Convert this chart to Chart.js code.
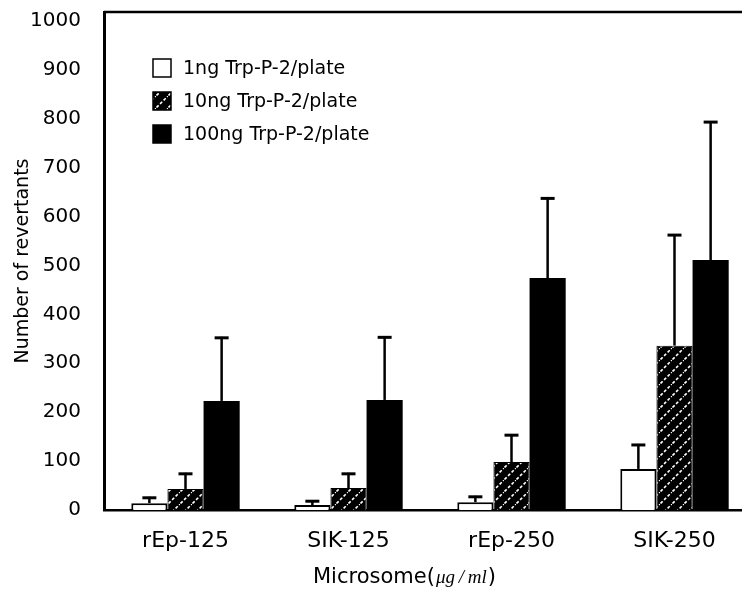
<!DOCTYPE html>
<html>
<head>
<meta charset="utf-8">
<title>Number of revertants</title>
<script src="https://cdn.jsdelivr.net/npm/chart.js@4.4.1/dist/chart.umd.min.js"></script>
<style>
    html, body { margin: 0; padding: 0; background: #fff; overflow: hidden; }
    #wrap { width: 742px; height: 589px; overflow: hidden; }
</style>
</head>
<body>
<div id="wrap"><canvas id="canvasRevertants" width="756" height="589"></canvas></div>
<script>
// chart data
var categories = ["rEp-125", "SIK-125", "rEp-250", "SIK-250"];
var seriesNames = ["1ng Trp-P-2/plate", "10ng Trp-P-2/plate", "100ng Trp-P-2/plate"];
var values1ng = [14, 10, 16, 84];
var errors1ng = [13, 10, 13, 51];
var values10ng = [43, 45, 98, 336];
var errors10ng = [33, 31, 57, 228];
var values100ng = [223, 225, 474, 511];
var errors100ng = [131, 130, 165, 284];
var yTicks = [0, 100, 200, 300, 400, 500, 600, 700, 800, 900, 1000];

var FONT = "'DejaVu Sans', 'Liberation Sans', Arial, sans-serif";

// black with white dashed diagonal stripes
function makeHatch()
{
    var c = document.createElement("canvas");
    c.width = 12;
    c.height = 12;
    var ctx = c.getContext("2d");
    ctx.fillStyle = "#000";
    ctx.fillRect(0, 0, 12, 12);
    ctx.strokeStyle = "#fff";
    ctx.lineWidth = 1.6;
    ctx.setLineDash([3, 2]);
    ctx.beginPath();
    ctx.moveTo(-3, 15); ctx.lineTo(15, -3);
    ctx.stroke();
    return document.createElement("canvas").getContext("2d").createPattern(c, "repeat");
}

var hatch = makeHatch();

// error bars (upper only) drawn through the y scale
var errorBarPlugin = {
    id: "errorBars",
    afterDatasetsDraw: function (chart)
    {
        var ctx = chart.ctx;
        var yScale = chart.scales.y;
        ctx.save();
        ctx.strokeStyle = "#000";
        chart.data.datasets.forEach(function (ds, i)
        {
            var meta = chart.getDatasetMeta(i);
            meta.data.forEach(function (bar, j)
            {
                var top = yScale.getPixelForValue(ds.data[j] + ds.errors[j]);
                ctx.lineWidth = 2.5;
                ctx.beginPath();
                ctx.moveTo(bar.x, bar.y);
                ctx.lineTo(bar.x, top);
                ctx.stroke();
                ctx.lineWidth = 3;
                ctx.beginPath();
                ctx.moveTo(bar.x - 7, top + 1);
                ctx.lineTo(bar.x + 7, top + 1);
                ctx.stroke();
            });
        });
        ctx.restore();
    }
};

// top frame line, legend inside the plot, x axis title with mixed fonts
var framePlugin = {
    id: "frameAndLegend",
    afterDraw: function (chart)
    {
        var ctx = chart.ctx;
        var area = chart.chartArea;
        ctx.save();

        ctx.strokeStyle = "#000";
        ctx.lineWidth = 2.5;
        ctx.beginPath();
        ctx.moveTo(area.left, area.top);
        ctx.lineTo(area.right, area.top);
        ctx.stroke();

        // legend
        var bx = area.left + 49;
        var by = area.top + 56;
        ctx.font = "19px " + FONT;
        ctx.textBaseline = "middle";
        ctx.textAlign = "left";
        chart.data.datasets.forEach(function (ds, i)
        {
            var cy = by + i * 33;
            ctx.fillStyle = ds.backgroundColor;
            ctx.fillRect(bx, cy - 9, 18, 18);
            ctx.lineWidth = 1.5;
            ctx.strokeStyle = "#000";
            ctx.strokeRect(bx, cy - 9, 18, 18);
            ctx.fillStyle = "#000";
            ctx.fillText(ds.label, bx + 30, cy + 1);
        });

        // x axis title
        var tx = area.left + 209;
        var ty = 583;
        ctx.textBaseline = "alphabetic";
        ctx.fillStyle = "#000";
        ctx.font = "21px " + FONT;
        ctx.fillText("Microsome(", tx, ty);
        tx += ctx.measureText("Microsome(").width + 1;
        ctx.font = "italic 19px 'Liberation Serif', 'DejaVu Serif', serif";
        var unit = "\u03bcg\u2009/\u2009ml";
        ctx.fillText(unit, tx, ty);
        tx += ctx.measureText(unit).width + 1;
        ctx.font = "21px " + FONT;
        ctx.fillText(")", tx, ty);

        ctx.restore();
    }
};

var config = {
    type: "bar",
    data: {
        labels: categories,
        datasets: [
            {
                label: seriesNames[0],
                data: values1ng,
                errors: errors1ng,
                backgroundColor: "#fff",
                borderColor: "#000",
                borderWidth: 2
            },
            {
                label: seriesNames[1],
                data: values10ng,
                errors: errors10ng,
                backgroundColor: hatch,
                borderColor: "#000",
                borderWidth: 1
            },
            {
                label: seriesNames[2],
                data: values100ng,
                errors: errors100ng,
                backgroundColor: "#000",
                borderColor: "#000",
                borderWidth: 0
            }
        ]
    },
    options: {
        responsive: false,
        animation: false,
        layout: { padding: { top: 12, right: 0, left: 0, bottom: 0 } },
        datasets: {
            bar: { categoryPercentage: 0.665, barPercentage: 1.0 }
        },
        plugins: {
            legend: { display: false },
            tooltip: { enabled: false }
        },
        scales: {
            x: {
                grid: { display: false },
                border: { display: true, color: "#000", width: 2.5 },
                ticks: {
                    color: "#000",
                    padding: 10,
                    font: { family: FONT, size: 22 },
                    maxRotation: 0
                },
                afterFit: function (scale)
                {
                    scale.height = 79;
                    scale.paddingLeft = 0;
                    scale.paddingRight = 0;
                }
            },
            y: {
                min: 0,
                max: 1018,
                grid: { display: false },
                border: { display: true, color: "#000", width: 3 },
                afterBuildTicks: function (scale)
                {
                    scale.ticks = yTicks.map(function (v) { return { value: v }; });
                },
                ticks: {
                    color: "#000",
                    padding: 15,
                    font: { family: FONT, size: 20 },
                    callback: function (value) { return String(value); }
                },
                title: {
                    display: true,
                    text: "Number of revertants",
                    color: "#000",
                    font: { family: FONT, size: 19 },
                    padding: { top: 12, bottom: 0 }
                },
                afterFit: function (scale)
                {
                    scale.width = 104;
                    scale.paddingTop = 0;
                    scale.paddingBottom = 0;
                }
            }
        }
    },
    plugins: [errorBarPlugin, framePlugin]
};

var chart = new Chart(document.getElementById("canvasRevertants").getContext("2d"), config);
</script>
</body>
</html>
